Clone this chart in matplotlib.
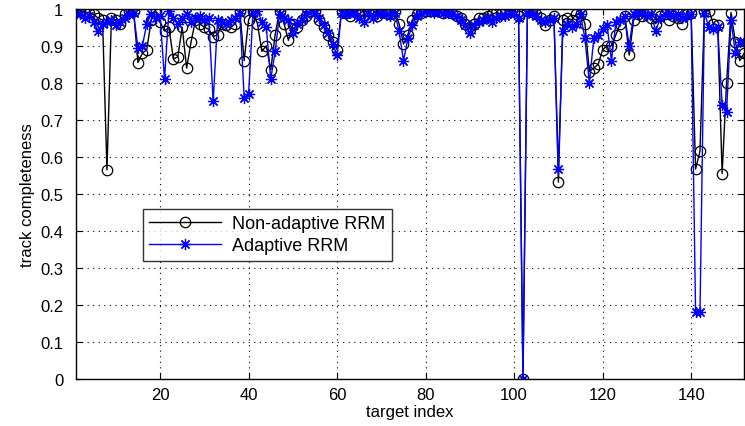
import numpy as np
import matplotlib
matplotlib.use('Agg')
import matplotlib.pyplot as plt

plt.rcParams['font.family'] = ['Liberation Sans', 'DejaVu Sans']

target_index = np.arange(1, 153)

non_adaptive = [
    0.995, 0.995, 0.99, 0.99, 0.985, 0.975, 0.97, 0.565, 0.975, 0.97,
    0.96, 0.985, 0.995, 0.995, 0.855, 0.88, 0.89, 0.97, 0.995, 0.965,
    0.94, 0.95, 0.865, 0.87, 0.95, 0.84, 0.91, 0.97, 0.96, 0.95,
    0.945, 0.925, 0.93, 0.96, 0.955, 0.95, 0.96, 0.995, 0.86, 0.97,
    0.995, 0.96, 0.885, 0.9, 0.835, 0.93, 0.995, 0.96, 0.915, 0.96,
    0.95, 0.97, 0.98, 0.995, 0.995, 0.97, 0.95, 0.93, 0.91, 0.89,
    0.995, 0.99, 0.98, 0.995, 0.985, 0.98, 0.995, 0.985, 0.98, 0.995,
    0.99, 0.985, 0.995, 0.96, 0.905, 0.93, 0.97, 0.985, 0.99, 0.995,
    0.995, 0.995, 0.995, 0.99, 0.995, 0.99, 0.98, 0.975, 0.96, 0.945,
    0.96, 0.975, 0.975, 0.98, 0.985, 0.99, 0.985, 0.99, 0.995, 0.995,
    0.98, 0.0, 0.995, 0.995, 0.985, 0.975, 0.955, 0.97, 0.98, 0.532,
    0.97, 0.975, 0.97, 0.985, 0.99, 0.96, 0.83, 0.84, 0.85, 0.89,
    0.9, 0.9, 0.93, 0.96, 0.98, 0.875, 0.97, 0.985, 0.98, 0.99,
    0.975, 0.96, 0.98, 0.985, 0.97, 0.98, 0.975, 0.96, 0.985, 0.99,
    0.567, 0.616, 0.995, 0.995, 0.96, 0.955, 0.555, 0.8, 0.99, 0.91,
    0.86, 0.88,
]

adaptive = [
    0.99, 0.985, 0.975, 0.98, 0.965, 0.94, 0.96, 0.965, 0.97, 0.955,
    0.965, 0.975, 0.985, 0.99, 0.895, 0.9, 0.96, 0.985, 0.975, 0.98,
    0.81, 0.995, 0.975, 0.96, 0.975, 0.985, 0.965, 0.975, 0.98, 0.97,
    0.975, 0.75, 0.97, 0.965, 0.96, 0.97, 0.975, 0.99, 0.76, 0.77,
    0.99, 0.995, 0.965, 0.95, 0.81, 0.885, 0.985, 0.975, 0.97, 0.935,
    0.96, 0.97, 0.985, 0.995, 0.99, 0.975, 0.955, 0.935, 0.905, 0.875,
    0.99, 0.985, 0.99, 0.99, 0.975, 0.965, 0.99, 0.975, 0.985, 0.99,
    0.985, 0.98, 0.99, 0.94, 0.86, 0.92, 0.955, 0.98, 0.99, 0.995,
    0.995, 0.99, 0.995, 0.99, 0.99, 0.985, 0.98, 0.97, 0.955, 0.935,
    0.955, 0.965, 0.97, 0.975, 0.965, 0.975, 0.98, 0.98, 0.99, 0.985,
    0.975, 0.0, 0.99, 0.985, 0.98, 0.97, 0.965, 0.97, 0.975, 0.567,
    0.94, 0.96, 0.95, 0.96, 0.985, 0.92, 0.8, 0.92, 0.93, 0.945,
    0.955, 0.86, 0.965, 0.97, 0.98, 0.9, 0.985, 0.99, 0.99, 0.98,
    0.985, 0.94, 0.975, 0.985, 0.99, 0.98, 0.985, 0.975, 0.98, 0.985,
    0.18, 0.18, 0.99, 0.95, 0.945, 0.95, 0.74, 0.72, 0.97, 0.88,
    0.91, 0.91,
]

fig = plt.figure(figsize=(7.45, 4.27), dpi=100)
ax = fig.add_axes([0.102, 0.110, 0.897, 0.867])

ax.plot(target_index, non_adaptive, color='black', linewidth=1.0,
        marker='o', markersize=7.5, markerfacecolor='none',
        markeredgecolor='black', markeredgewidth=0.9, label='Non-adaptive RRM')
ax.plot(target_index, adaptive, color='blue', linewidth=1.0,
        marker=(8, 2, 0), markersize=8, markeredgecolor='blue',
        markeredgewidth=0.9, label='Adaptive RRM')

ax.set_xlim(1, 152)
ax.set_ylim(0, 1)
ax.set_xticks(np.arange(20, 141, 20))
ax.set_yticks(np.arange(0, 1.01, 0.1))
ax.set_yticklabels(['0', '0.1', '0.2', '0.3', '0.4', '0.5', '0.6', '0.7', '0.8', '0.9', '1'])
ax.tick_params(direction='in', top=True, right=True, labelsize=12, length=4)
ax.tick_params(axis='y', pad=9)
ax.tick_params(axis='x', pad=6)
ax.grid(True, linestyle=(0, (1, 4)), color='black', linewidth=0.8)
for s in ax.spines.values():
    s.set_linewidth(1.0)

ax.set_xlabel('target index', fontsize=12, labelpad=1)
ax.set_ylabel('track completeness', fontsize=12, labelpad=4)

leg = ax.legend(loc='lower left', bbox_to_anchor=(0.1, 0.32), fontsize=13,
                handlelength=4, frameon=True, fancybox=False, borderpad=0.35,
                labelspacing=0.3, handletextpad=0.6, borderaxespad=0)
leg.get_frame().set_edgecolor('black')
leg.get_frame().set_linewidth(1.0)

fig.savefig('out.png', dpi=100)
